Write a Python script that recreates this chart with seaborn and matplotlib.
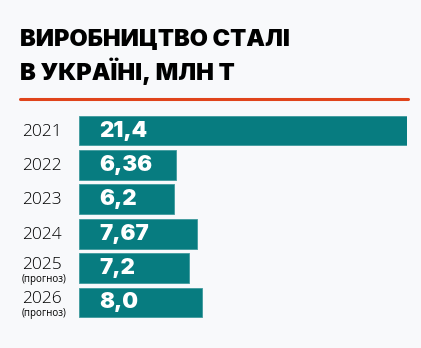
import matplotlib
matplotlib.use("Agg")
import matplotlib.pyplot as plt
import matplotlib.transforms as mtransforms
from matplotlib.lines import Line2D
import seaborn as sns
import pandas as pd

# Steel production, million tonnes
years = ["2021", "2022", "2023", "2024", "2025", "2026"]
notes = ["", "", "", "", "(прогноз)", "(прогноз)"]
production = [21.4, 6.36, 6.2, 7.67, 7.2, 8.0]
value_labels = ["21,4", "6,36", "6,2", "7,67", "7,2", "8,0"]
title_lines = ["ВИРОБНИЦТВО СТАЛІ", "В УКРАЇНІ, МЛН Т"]

BG = "#f8f9fb"
TEAL = "#077c80"
ACCENT = "#e0441b"

sns.set_theme(style="white")
plt.rcParams["font.family"] = ["Inter", "DejaVu Sans"]

W, H = 421, 348
fig = plt.figure(figsize=(W / 100, H / 100), dpi=100, facecolor=BG)
ax = fig.add_axes([79 / W, 1 - 319.7 / H, 328 / W, (319.7 - 113.3) / H])
ax.set_facecolor(BG)

df = pd.DataFrame({"year": years, "value": production})
sns.barplot(data=df, x="value", y="year", orient="h", color=TEAL,
            saturation=1, width=0.87, edgecolor="#3f9a9d", linewidth=0.6,
            ax=ax)
ax.set_xlim(0, production[0])
ax.set_ylim(len(years) - 0.5, -0.5)
ax.axis("off")

# Value labels inside the bars
label_x = (99 - 79) / 328 * production[0]
for i, txt in enumerate(value_labels):
    ax.text(label_x, i, txt, ha="left", va="center", color="white",
            fontsize=16, fontweight=900, family="Inter")

# Year labels on the left
year_font = dict(family="Open Sans", fontweight=300, color="black")
trans = mtransforms.blended_transform_factory(fig.transFigure, ax.transData)
for i, (yr, note) in enumerate(zip(years, notes)):
    if note:
        ax.text(22 / W, i - 0.1, yr, transform=trans, ha="left", va="center",
                fontsize=12.5, **year_font)
        ax.text(22 / W, i + 0.32, note, transform=trans, ha="left",
                va="center", fontsize=7, family="Open Sans", color="black")
    else:
        ax.text(22 / W, i + 0.03, yr, transform=trans, ha="left",
                va="center", fontsize=12.5, **year_font)

# Title
for line, base in zip(title_lines, (46, 80)):
    fig.text(20 / W, 1 - base / H, line, ha="left", va="baseline",
             fontsize=17, fontweight=900, family="Inter", color="black")

# Accent rule under the title
fig.add_artist(Line2D([20 / W, 408 / W], [1 - 98.5 / H, 1 - 98.5 / H],
                      transform=fig.transFigure, color=ACCENT, lw=2.2))

fig.savefig("out.png", dpi=100, facecolor=BG)
